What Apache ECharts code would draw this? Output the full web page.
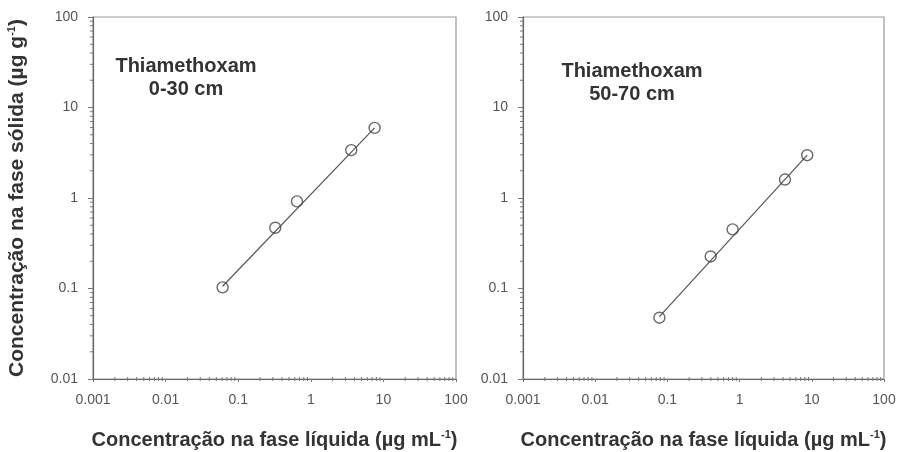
<!DOCTYPE html>
<html>
<head>
<meta charset="utf-8">
<script src="https://cdn.jsdelivr.net/npm/echarts@6/dist/echarts.min.js"></script>
<style>html,body{margin:0;padding:0;background:#fff}#c{width:903px;height:452px}</style>
</head>
<body>
<div id="c"></div>
<script>
// ---- data ----
var panelLabels = ['Thiamethoxam\n0-30 cm', 'Thiamethoxam\n50-70 cm'];
var pointsTop = [[0.061, 0.103], [0.324, 0.469], [0.645, 0.917], [3.61, 3.38], [7.57, 5.95]];
var pointsDeep = [[0.0775, 0.0476], [0.398, 0.226], [0.80, 0.45], [4.25, 1.60], [8.64, 2.97]];
var fitTop = [[0.061, 0.106], [7.57, 5.95]];
var fitDeep = [[0.0775, 0.049], [8.64, 2.97]];
var xTickLabels = ['0.001', '0.01', '0.1', '1', '10', '100'];
var yTickLabels = ['0.01', '0.1', '1', '10', '100'];
var decadesX = [0.001, 0.01, 0.1, 1, 10];
var decadesY = [0.01, 0.1, 1, 10];
var minorMultipliers = [2, 3, 4, 5, 6, 7, 8, 9];
var xTitle = 'Concentração na fase líquida (µg mL{s|-1})';
var yTitle = 'Concentração na fase sólida (µg g{s|-1})';

var xMinorTicks = [];
var yMinorTicks = [];
decadesX.forEach(function (d) { minorMultipliers.forEach(function (m) { xMinorTicks.push([+(d * m).toPrecision(3), 0.01]); }); });
decadesY.forEach(function (d) { minorMultipliers.forEach(function (m) { yMinorTicks.push([0.001, +(d * m).toPrecision(3)]); }); });

var font = 'Liberation Sans, Arial, sans-serif';
var chart = echarts.init(document.getElementById('c'));

function labelFor(list, v) {
  var s = String(+v.toPrecision(3));
  for (var i = 0; i < list.length; i++) { if (+list[i] === +s) return list[i]; }
  return s;
}

function xAxisCfg(gi) {
  return {
    type: 'log', logBase: 10, gridIndex: gi, min: 0.001, max: 100,
    axisLine: { show: true, onZero: false, lineStyle: { color: '#666', width: 1.2 } },
    axisTick: { show: true, inside: false, length: 3, lineStyle: { color: '#777' } },
    splitLine: { show: false },
    axisLabel: { color: '#555', fontSize: 14, fontFamily: font, margin: 14,
      formatter: function (v) { return labelFor(xTickLabels, v); } },
    name: xTitle, nameLocation: 'middle', nameGap: 50,
    nameTextStyle: { color: '#333', fontSize: 20, fontWeight: 'bold', fontFamily: font,
      rich: { s: { fontSize: 11, fontWeight: 'bold', color: '#333', fontFamily: font, padding: [0, 0, 12, 0] } } }
  };
}
function yAxisCfg(gi, withName) {
  var c = {
    type: 'log', logBase: 10, gridIndex: gi, min: 0.01, max: 100,
    axisLine: { show: true, onZero: false, lineStyle: { color: '#666', width: 1.2 } },
    axisTick: { show: true, inside: false, length: 5, lineStyle: { color: '#777' } },
    splitLine: { show: false },
    axisLabel: { color: '#555', fontSize: 14, fontFamily: font, margin: 15,
      formatter: function (v) { return labelFor(yTickLabels, v); } }
  };
  if (withName) {
    c.name = yTitle; c.nameLocation = 'middle'; c.nameGap = 64;
    c.nameTextStyle = { color: '#333', fontSize: 21, fontWeight: 'bold', fontFamily: font,
      rich: { s: { fontSize: 11, fontWeight: 'bold', color: '#333', fontFamily: font, padding: [0, 0, 12, 0] } } };
  }
  return c;
}

function minorX(gi) {
  return {
    type: 'custom', xAxisIndex: gi, yAxisIndex: gi, data: xMinorTicks, clip: false, silent: true, z: 5,
    renderItem: function (params, api) {
      var p = api.coord([api.value(0), api.value(1)]);
      return { type: 'line', shape: { x1: p[0], y1: p[1] - 2, x2: p[0], y2: p[1] + 2 },
        style: { stroke: '#777', lineWidth: 1 } };
    }
  };
}
function minorY(gi) {
  return {
    type: 'custom', xAxisIndex: gi, yAxisIndex: gi, data: yMinorTicks, clip: false, silent: true, z: 5,
    renderItem: function (params, api) {
      var p = api.coord([api.value(0), api.value(1)]);
      return { type: 'line', shape: { x1: p[0] - 3, y1: p[1], x2: p[0], y2: p[1] },
        style: { stroke: '#777', lineWidth: 1 } };
    }
  };
}
function fitSeries(gi, d) {
  return { type: 'line', xAxisIndex: gi, yAxisIndex: gi, data: d, symbol: 'none', silent: true,
    lineStyle: { color: '#555', width: 1.2 }, z: 3 };
}
function ptSeries(gi, d) {
  return { type: 'scatter', xAxisIndex: gi, yAxisIndex: gi, data: d, symbol: 'circle', symbolSize: 11,
    itemStyle: { color: 'rgba(255,255,255,0)', borderColor: '#444', borderWidth: 1.4 }, z: 4 };
}

chart.setOption({
  backgroundColor: '#fff',
  animation: false,
  grid: [
    { left: 93, right: 447, top: 17, bottom: 73, outerBoundsMode: 'none', containLabel: false, show: true, borderColor: '#999', borderWidth: 1.2, backgroundColor: 'transparent' },
    { left: 523, right: 19, top: 17, bottom: 73, outerBoundsMode: 'none', containLabel: false, show: true, borderColor: '#999', borderWidth: 1.2, backgroundColor: 'transparent' }
  ],
  xAxis: [xAxisCfg(0), xAxisCfg(1)],
  yAxis: [yAxisCfg(0, true), yAxisCfg(1, false)],
  graphic: [
    { type: 'text', x: 186, y: 55, style: { text: panelLabels[0], align: 'center', font: 'bold 20px ' + font, fill: '#333', lineHeight: 23 } },
    { type: 'text', x: 632, y: 60, style: { text: panelLabels[1], align: 'center', font: 'bold 20px ' + font, fill: '#333', lineHeight: 23 } }
  ],
  series: [
    minorX(0), minorY(0), fitSeries(0, fitTop), ptSeries(0, pointsTop),
    minorX(1), minorY(1), fitSeries(1, fitDeep), ptSeries(1, pointsDeep)
  ]
});
</script>
</body>
</html>
